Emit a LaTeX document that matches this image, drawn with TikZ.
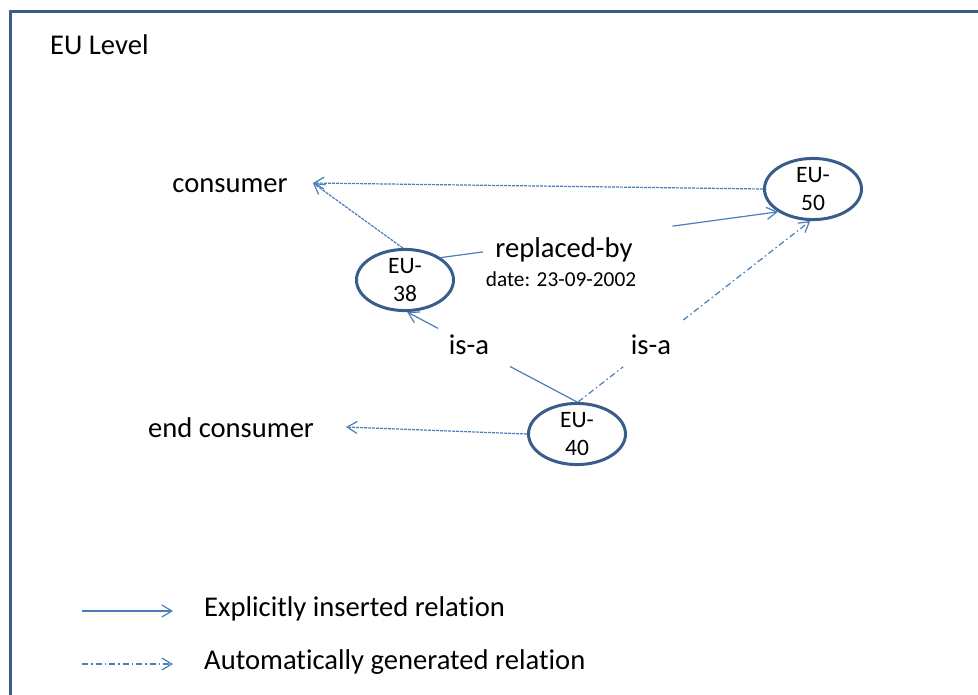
\documentclass[tikz,border=0pt]{standalone}
\usepackage{fontspec}
\setmainfont{Carlito}[Ligatures=NoCommon]
\usetikzlibrary{arrows.meta,calc,shapes.geometric}
\definecolor{frameblue}{HTML}{385D8A}
\definecolor{relblue}{HTML}{4A7EBB}

\begin{document}
\begin{tikzpicture}[x=1pt,y=-1pt,
    concept/.style={ellipse,draw=frameblue,line width=3pt,minimum width=97pt,minimum height=61pt,inner sep=0pt,align=center,font=\fontsize{23.5}{28}\selectfont},
    word/.style={inner sep=0pt,font=\fontsize{28.6}{34}\selectfont},
    insrel/.style={draw=relblue,line width=1.2pt,-{Straight Barb[length=10pt,width=12pt]}},
    genrel/.style={insrel,dash pattern=on 6pt off 3pt on 1.5pt off 3pt},
    dotrel/.style={insrel,dash pattern=on 3pt off 1pt}]
    \useasboundingbox (0,0) rectangle (978,694);
    \clip (0,0) rectangle (978,694);
    \draw[frameblue,line width=3pt] (10,11) rectangle (1000,720);

    \node[word,anchor=base west] (level) at (50,54) {EU Level};

    \node[word,anchor=base] (cons) at (230,192) {consumer};
    \node[word,anchor=base] (endcons) at (231,437) {end consumer};
    \coordinate (constip) at (313,183);
    \coordinate (endtip) at (346,427);

    \node[concept] (eu38) at (405,280) {EU-\\38};
    \node[concept] (eu40) at (577,434) {EU-\\40};
    \node[concept] (eu50) at (813,189) {EU-\\50};

    \node[word,anchor=base] (repl) at (564,257) {replaced-by};
    \node[word,anchor=base,font=\fontsize{21.3}{24}\selectfont] (date) at (561,286) {date: 23-09-2002};
    \node[word,anchor=base] (isa1) at (469,354) {is-a};
    \node[word,anchor=base] (isa2) at (651,354) {is-a};

    % derived links
    \draw[dotrel] (eu50.west) -- (constip);
    \draw[dotrel] (eu38.94) -- (constip);
    \draw[dotrel] (eu40.west) -- (endtip);

    % replaced-by and is-a, broken where the labels sit
    \draw[insrel,-] (eu38.32) -- ($(eu38.32)!0.125!(eu50.213)$);
    \draw[insrel] ($(eu38.32)!0.687!(eu50.213)$) -- (eu50.213);
    \draw[insrel,-] (eu40.90) -- ($(eu40.90)!0.394!(eu38.274)$);
    \draw[insrel] ($(eu40.90)!0.818!(eu38.274)$) -- (eu38.274);
    \draw[genrel,-] (eu40.88) -- ($(eu40.88)!0.194!(eu50.265)$);
    \draw[genrel] ($(eu40.88)!0.453!(eu50.265)$) -- (eu50.265);

    % legend
    \coordinate (l1a) at (82,611);
    \coordinate (l1b) at (173,611);
    \draw[insrel] (l1a) -- (l1b);
    \node[word,anchor=base west] (lexp) at (204,616) {Explicitly inserted relation};
    \coordinate (l2a) at (82,664);
    \coordinate (l2b) at (173,664);
    \draw[genrel] (l2a) -- (l2b);
    \node[word,anchor=base west] (lgen) at (204,669) {Automatically generated relation};
\end{tikzpicture}
\end{document}
